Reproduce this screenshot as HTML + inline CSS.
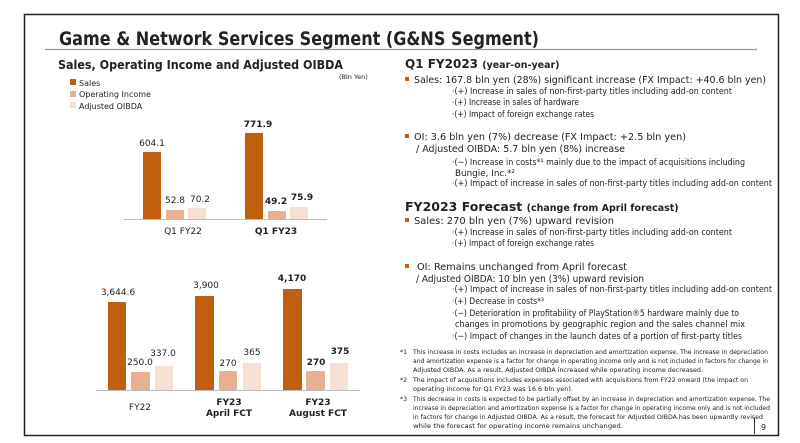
<!DOCTYPE html>
<html><head><meta charset="utf-8"><style>
html,body{margin:0;padding:0;background:#fff;width:800px;height:443px;overflow:hidden}
svg{display:block}
text{font-family:"DejaVu Sans","Liberation Sans",sans-serif;fill:#222}
.b{font-weight:bold}
</style></head><body>
<svg width="800" height="443" viewBox="0 0 800 443">
<rect x="24.5" y="14.5" width="754" height="421" fill="#fff" stroke="#222" stroke-width="1.5"/>
<text x="59" y="45" font-size="19" class="b" textLength="480" lengthAdjust="spacingAndGlyphs">Game &amp; Network Services Segment (G&amp;NS Segment)</text>
<line x1="45" y1="49.5" x2="757" y2="49.5" stroke="#999" stroke-width="1.2"/>
<text x="58" y="69" font-size="12" class="b" textLength="285" lengthAdjust="spacingAndGlyphs">Sales, Operating Income and Adjusted OIBDA</text>
<text x="339" y="79" font-size="6.5" fill="#555">(Bln Yen)</text>
<rect x="70" y="79" width="6" height="6" fill="#c0600f"/><text x="79" y="86" font-size="8" fill="#444">Sales</text>
<rect x="70" y="91" width="6" height="6" fill="#e8b090"/><text x="79" y="97" font-size="8" fill="#444">Operating Income</text>
<rect x="70" y="102" width="6" height="6" fill="#f6e0d3"/><text x="79" y="109" font-size="8" fill="#444">Adjusted OIBDA</text>
<!-- chart 1 -->
<line x1="124" y1="219.5" x2="327" y2="219.5" stroke="#bbb"/>
<rect x="143" y="152" width="18" height="67" fill="#c0600f"/>
<rect x="166" y="210" width="18" height="9" fill="#e8b090"/>
<rect x="188" y="208" width="18" height="11" fill="#f6e0d3"/>
<rect x="245" y="133" width="18" height="86" fill="#c0600f"/>
<rect x="268" y="211" width="18" height="8" fill="#e8b090"/>
<rect x="290" y="207" width="18" height="12" fill="#f6e0d3"/>
<g font-size="9" text-anchor="middle">
<text x="152" y="146">604.1</text>
<text x="258" y="127" class="b">771.9</text>
<text x="175" y="203">52.8</text>
<text x="200" y="202">70.2</text>
<text x="276" y="204" class="b">49.2</text>
<text x="302" y="200" class="b">75.9</text>
<text x="183" y="234">Q1 FY22</text>
<text x="276" y="234" class="b">Q1 FY23</text>
</g>
<!-- chart 2 -->
<line x1="96" y1="390.5" x2="360" y2="390.5" stroke="#bbb"/>
<rect x="108" y="302" width="18" height="88" fill="#c0600f"/>
<rect x="131" y="372" width="19" height="18" fill="#e8b090"/>
<rect x="155" y="366" width="18" height="24" fill="#f6e0d3"/>
<rect x="195" y="296" width="19" height="94" fill="#c0600f"/>
<rect x="219" y="371" width="18" height="19" fill="#e8b090"/>
<rect x="243" y="363" width="18" height="27" fill="#f6e0d3"/>
<rect x="283" y="289" width="19" height="101" fill="#c0600f"/>
<rect x="306" y="371" width="19" height="19" fill="#e8b090"/>
<rect x="330" y="363" width="18" height="27" fill="#f6e0d3"/>
<g font-size="9" text-anchor="middle">
<text x="118" y="295">3,644.6</text>
<text x="140" y="365">250.0</text>
<text x="163" y="356">337.0</text>
<text x="206" y="288">3,900</text>
<text x="228" y="366">270</text>
<text x="252" y="355">365</text>
<text x="292" y="281" class="b">4,170</text>
<text x="316" y="365" class="b">270</text>
<text x="340" y="354" class="b">375</text>
<text x="140" y="410">FY22</text>
<text x="229" y="405" class="b">FY23</text>
<text x="229" y="416" class="b">April FCT</text>
<text x="318" y="405" class="b">FY23</text>
<text x="318" y="416" class="b">August FCT</text>
</g>
<!-- right text -->
<text x="405" y="68" font-size="12" class="b">Q1 FY2023 <tspan font-size="9.5">(year-on-year)</tspan></text>
<g font-size="9.5">
<rect x="405" y="77" width="4" height="4" fill="#c0600f"/>
<text x="414" y="83" textLength="352" lengthAdjust="spacingAndGlyphs">Sales: 167.8 bln yen (28%) significant increase (FX Impact: +40.6 bln yen)</text>
<rect x="405" y="134" width="4" height="4" fill="#c0600f"/>
<text x="414" y="140" textLength="272" lengthAdjust="spacingAndGlyphs">OI:  3.6 bln yen (7%) decrease (FX Impact: +2.5 bln yen)</text>
<text x="416" y="152" textLength="209" lengthAdjust="spacingAndGlyphs">/ Adjusted OIBDA: 5.7 bln yen (8%) increase</text>
<text x="405" y="211" font-size="12.5" class="b">FY2023 Forecast <tspan font-size="9.5">(change from April forecast)</tspan></text>
<rect x="405" y="218" width="4" height="4" fill="#c0600f"/>
<text x="414" y="224" textLength="200" lengthAdjust="spacingAndGlyphs">Sales: 270 bln yen (7%) upward revision</text>
<rect x="405" y="264" width="4" height="4" fill="#c0600f"/>
<text x="417" y="270" textLength="210" lengthAdjust="spacingAndGlyphs">OI: Remains unchanged from April forecast</text>
<text x="416" y="282" textLength="228" lengthAdjust="spacingAndGlyphs">/ Adjusted OIBDA: 10 bln yen (3%) upward revision</text>
</g>
<g font-size="8.8" fill="#333">
<text x="452" y="94" textLength="280" lengthAdjust="spacingAndGlyphs">·(+) Increase in sales of non-first-party titles including add-on content</text>
<text x="452" y="105" textLength="127" lengthAdjust="spacingAndGlyphs">·(+) Increase in sales of hardware</text>
<text x="452" y="117" textLength="142" lengthAdjust="spacingAndGlyphs">·(+) Impact of foreign exchange rates</text>
<text x="452" y="165" textLength="293" lengthAdjust="spacingAndGlyphs">·(−) Increase in costs*¹ mainly due to the impact of acquisitions including</text>
<text x="455" y="176">Bungie, Inc.*²</text>
<text x="452" y="186" textLength="320" lengthAdjust="spacingAndGlyphs">·(+) Impact of increase in sales of non-first-party titles including add-on content</text>
<text x="452" y="235" textLength="280" lengthAdjust="spacingAndGlyphs">·(+) Increase in sales of non-first-party titles including add-on content</text>
<text x="452" y="246" textLength="142" lengthAdjust="spacingAndGlyphs">·(+) Impact of foreign exchange rates</text>
<text x="452" y="292" textLength="320" lengthAdjust="spacingAndGlyphs">·(+) Impact of increase in sales of non-first-party titles including add-on content</text>
<text x="452" y="304" textLength="92" lengthAdjust="spacingAndGlyphs">·(+) Decrease in costs*³</text>
<text x="452" y="316" textLength="287" lengthAdjust="spacingAndGlyphs">·(−) Deterioration in profitability of PlayStation®5 hardware mainly due to</text>
<text x="455" y="327" textLength="290" lengthAdjust="spacingAndGlyphs">changes in promotions by geographic region and the sales channel mix</text>
<text x="452" y="339" textLength="290" lengthAdjust="spacingAndGlyphs">·(−) Impact of changes in the launch dates of a portion of first-party titles</text>
</g>
<g font-size="6.3" fill="#333">
<text x="400" y="354">*1</text>
<text x="413" y="354" textLength="355" lengthAdjust="spacingAndGlyphs">This increase in costs includes an increase in depreciation and amortization expense. The increase in depreciation</text>
<text x="413" y="363" textLength="355" lengthAdjust="spacingAndGlyphs">and amortization expense is a factor for change in operating income only and is not included in factors for change in</text>
<text x="413" y="372" textLength="290" lengthAdjust="spacingAndGlyphs">Adjusted OIBDA. As a result, Adjusted OIBDA increased while operating income decreased.</text>
<text x="400" y="382">*2</text>
<text x="413" y="382" textLength="335" lengthAdjust="spacingAndGlyphs">The impact of acquisitions includes expenses associated with acquisitions from FY22 onward (the impact on</text>
<text x="413" y="391" textLength="160" lengthAdjust="spacingAndGlyphs">operating income for Q1 FY23 was 16.6 bln yen).</text>
<text x="400" y="401">*3</text>
<text x="413" y="401" textLength="357" lengthAdjust="spacingAndGlyphs">This decrease in costs is expected to be partially offset by an increase in depreciation and amortization expense. The</text>
<text x="413" y="410" textLength="357" lengthAdjust="spacingAndGlyphs">increase in depreciation and amortization expense is a factor for change in operating income only and is not included</text>
<text x="413" y="419" textLength="350" lengthAdjust="spacingAndGlyphs">in factors for change in Adjusted OIBDA. As a result, the forecast for Adjusted OIBDA has been upwardly revised</text>
<text x="413" y="428" textLength="210" lengthAdjust="spacingAndGlyphs">while the forecast for operating income remains unchanged.</text>
</g>
<line x1="754.5" y1="418" x2="754.5" y2="434" stroke="#333"/>
<text x="761" y="430" font-size="8">9</text>
</svg>
</body></html>
